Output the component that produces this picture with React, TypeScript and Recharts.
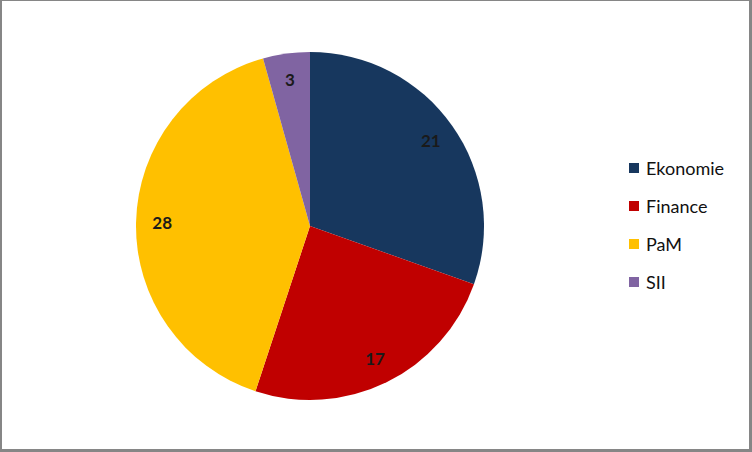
import { PieChart, Pie, Cell, Legend } from 'recharts';

const CATEGORIES = ['Ekonomie', 'Finance', 'PaM', 'SII'];
const VALUES = [21, 17, 28, 3];
const COLORS = ['#17375E', '#C00000', '#FFC000', '#8064A2'];

const data = CATEGORIES.map((name, i) => ({ name, value: VALUES[i] }));

const RADIAN = Math.PI / 180;

const renderLabel = ({ cx, cy, midAngle, outerRadius, value }: any) => {
  const r = outerRadius * 0.85;
  const x = cx + r * Math.cos(-midAngle * RADIAN);
  const y = cy + r * Math.sin(-midAngle * RADIAN);
  return (
    <text x={x} y={y} fill="#1a1a1a" textAnchor="middle" dominantBaseline="central"
      fontSize={17} fontWeight={700} fontFamily="Lato, sans-serif">
      {value}
    </text>
  );
};

const renderLegend = () => (
  <div style={{ fontFamily: 'Lato, sans-serif', fontSize: 18, color: '#111' }}>
    {CATEGORIES.map((name, i) => (
      <div key={name} style={{ display: 'flex', alignItems: 'center', height: 38 }}>
        <span style={{ width: 10, height: 10, background: COLORS[i], marginRight: 7, display: 'inline-block' }} />
        <span>{name}</span>
      </div>
    ))}
  </div>
);

export default function App() {
  return (
    <div style={{
      position: 'absolute', left: 0, top: 0, width: 752, height: 452, boxSizing: 'border-box',
      background: '#fff', borderStyle: 'solid', borderColor: '#868686',
      borderWidth: '1px 3px 3px 2px',
    }}>
      <PieChart width={747} height={448}>
        <Pie
          data={data}
          dataKey="value"
          nameKey="name"
          cx={303}
          cy={220}
          outerRadius={174}
          startAngle={90}
          endAngle={-270}
          stroke="none"
          label={renderLabel}
          labelLine={false}
          isAnimationActive={false}
        >
          {data.map((d, i) => (
            <Cell key={d.name} fill={COLORS[i]} />
          ))}
        </Pie>
        <Legend
          layout="vertical"
          align="right"
          verticalAlign="middle"
          content={renderLegend}
          wrapperStyle={{ left: 627, top: 148, width: 120 }}
        />
      </PieChart>
    </div>
  );
}
